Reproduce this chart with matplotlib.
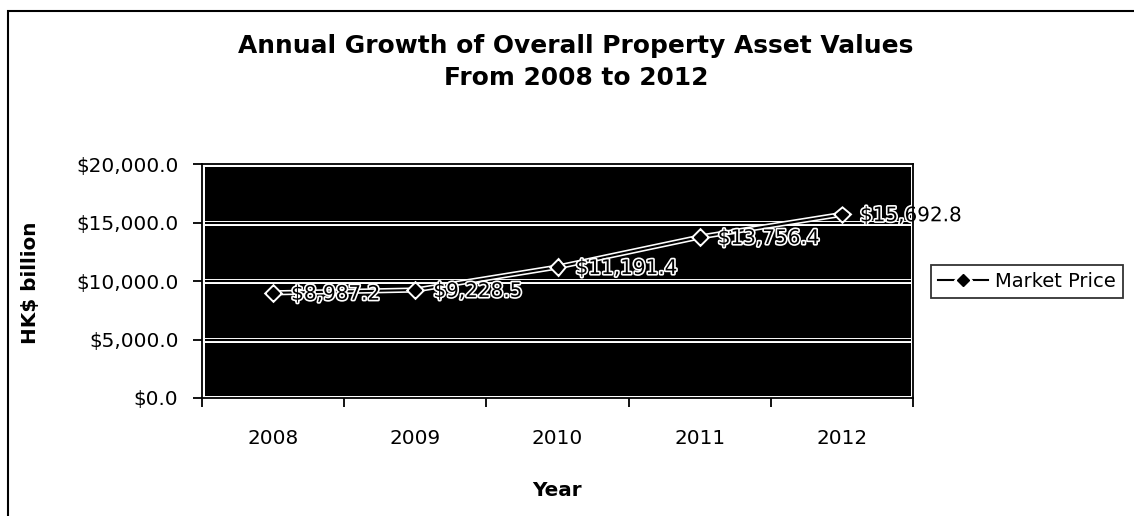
import matplotlib
matplotlib.use("Agg")
import matplotlib.pyplot as plt
import matplotlib.patheffects as pe
from matplotlib.patches import Rectangle
from matplotlib.ticker import FuncFormatter, FixedLocator

# Data
years = ["2008", "2009", "2010", "2011", "2012"]
market_price = [8987.2, 9228.5, 11191.4, 13756.4, 15692.8]
y_ticks = [0, 5000, 10000, 15000, 20000]

title = "Annual Growth of Overall Property Asset Values\nFrom 2008 to 2012"
series_name = "Market Price"

plt.rcParams["font.family"] = ["DejaVu Sans"]

W, H = 1134, 516
fig = plt.figure(figsize=(W / 100, H / 100), dpi=100)
fig.patch.set_facecolor("white")

# plot area in pixel terms
left, right, top, bottom = 202, 913, 164, 398
ax = fig.add_axes([left / W, 1 - bottom / H, (right - left) / W, (bottom - top) / H])
ax.set_facecolor("black")

x = list(range(len(years)))
ax.set_xlim(-0.5, len(years) - 0.5)
ax.set_ylim(y_ticks[0], y_ticks[-1])

# double-edged white gridlines
for v in y_ticks:
    ax.axhline(v, color="white", lw=3.6, zorder=1)
    ax.axhline(v, color="black", lw=1.5, zorder=1.1)

# white inner frame of the plot area
ax.add_patch(Rectangle((0, 0), 1, 1, transform=ax.transAxes, fill=False,
                       edgecolor="white", lw=3.6, zorder=1.2, clip_on=True))

# series line: black with white halo
line, = ax.plot(x, market_price, color="black", lw=1.5, marker="D", markersize=6,
                markerfacecolor="black", markeredgecolor="black", zorder=3,
                label=series_name, clip_on=False)
line.set_path_effects([pe.Stroke(linewidth=3.8, foreground="white"), pe.Normal()])

for xi, v in zip(x, market_price):
    ax.annotate(f"${v:,.1f}", (xi, v), xytext=(13, -1), textcoords="offset points",
                ha="left", va="center", fontsize=14.4, color="black", zorder=4,
                path_effects=[pe.withStroke(linewidth=2.4, foreground="white")],
                annotation_clip=False)

# axes, ticks
for s in ax.spines.values():
    s.set_color("black")
    s.set_linewidth(1.3)
    s.set_zorder(5)

ax.yaxis.set_major_locator(FixedLocator(y_ticks))
ax.yaxis.set_major_formatter(FuncFormatter(lambda v, p: f"${v:,.1f}"))
ax.tick_params(axis="y", direction="out", length=6.5, width=1.3, pad=10.5,
               labelsize=14.4, colors="black")

ax.set_xticks(x)
ax.set_xticklabels(years)
ax.set_xticks([i - 0.5 for i in range(len(years) + 1)], minor=True)
ax.tick_params(axis="x", which="major", length=0, pad=22, labelsize=14.4)
ax.tick_params(axis="x", which="minor", direction="out", length=6.5, width=1.3)

ax.set_xlabel("Year", fontsize=14.4, fontweight="bold", labelpad=24)
ax.set_ylabel("HK$ billion", fontsize=14.4, fontweight="bold", va="center")
ax.yaxis.set_label_coords((30 - left) / (right - left), (bottom - 283) / (bottom - top))

fig.text(576 / W, 1 - 62 / H, title, ha="center", va="center",
         fontsize=17.9, fontweight="bold", linespacing=1.45)

leg = ax.legend(loc="center left", bbox_to_anchor=(931 / W, 1 - 281.5 / H),
                bbox_transform=fig.transFigure, fontsize=14, frameon=True,
                fancybox=False, edgecolor="black", borderpad=0.35,
                handlelength=2.6, handletextpad=0.35, borderaxespad=0)
leg.get_frame().set_linewidth(1.3)

# outer chart border (left and top edges visible)
fig.add_artist(Rectangle((8 / W, -0.1), 1.2, 1.1 - 11 / H, transform=fig.transFigure,
                         fill=False, edgecolor="black", lw=1.5))

fig.savefig("out.png", dpi=100, facecolor="white")
